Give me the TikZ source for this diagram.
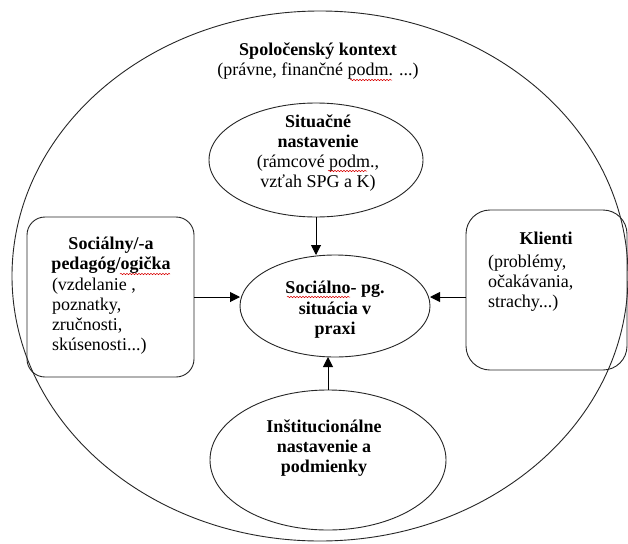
\documentclass[tikz,border=0pt]{standalone}
\usepackage{fontspec}
\setmainfont{Liberation Serif}
\usetikzlibrary{arrows.meta,shapes.geometric,decorations.pathmorphing}
\begin{document}
\begin{tikzpicture}[x=1pt,y=-1pt,
  every node/.style={inner sep=0pt, outer sep=0pt},
  txt/.style={font=\fontsize{18}{20}\selectfont, align=center},
  txtl/.style={font=\fontsize{18}{20}\selectfont, align=left, anchor=west},
  ell/.style={draw=black!85, line width=0.9pt, ellipse},
  rbox/.style={draw=black!85, line width=0.9pt, rectangle},
  arr/.style={draw=black, line width=1pt, -{Triangle[length=10pt,width=10pt]}},
  squig/.style={draw=red!85!black, line width=0.5pt, decorate, decoration={snake, amplitude=0.7pt, segment length=3pt}}
]
\useasboundingbox (0,0) rectangle (628,543);
\fill[white] (0,0) rectangle (628,543);

% outer ellipse
\node[ell, minimum width=616, minimum height=530] (outer) at (320,276) {};

% inner shapes
\node[ell, minimum width=214, minimum height=114] (top) at (316,160) {};
\node[ell, minimum width=190, minimum height=102] (cen) at (335,306) {};
\node[ell, minimum width=236, minimum height=140] (bot) at (328,460) {};
\node[rbox, rounded corners=18, minimum width=167, minimum height=160] (soc) at (110.5,297) {};
\node[rbox, rounded corners=24, minimum width=161, minimum height=160] (kli) at (546.5,290) {};

% texts
\node[txt] (ctxt) at (318,61) {\textbf{Spoločenský kontext}\\(právne, finančné podm. ...)};
\node[txt] (toptxt) at (318,153) {\textbf{Situačné}\\\textbf{nastavenie}\\(rámcové podm.,\\vzťah SPG a K)};
\node[txt, font=\fontsize{18}{20.5}\selectfont\bfseries] (centxt) at (335,310) {Sociálno- pg.\\situácia v\\praxi};
\node[txt, font=\fontsize{18}{20}\selectfont\bfseries] (bottxt) at (324,448) {Inštitucionálne\\nastavenie a\\podmienky};
\node[txt, font=\fontsize{18}{20.5}\selectfont\bfseries] (soctitle) at (111,255) {Sociálny/-a\\pedagóg/ogička};
\node[txtl] (socbody) at (52,316) {(vzdelanie ,\\poznatky,\\zručnosti,\\skúsenosti...)};
\node[txt, font=\fontsize{18}{20}\selectfont\bfseries] (klititle) at (546,238) {Klienti};
\node[txtl] (klibody) at (488,283) {(problémy,\\očakávania,\\strachy...)};

% arrows
\draw[arr] (top.south) -- (top.south |- cen.north);
\draw[arr] (bot.north) -- (bot.north |- cen.south);
\draw[arr] (soc.east) -- (soc.east -| cen.west);
\draw[arr] (kli.west |- soc.east) -- (soc.east -| cen.east);

% spell-check underlines
\draw[squig] (350,80) -- (392,80);
\draw[squig] (328,171) -- (367,171);
\draw[squig] (120,274) -- (170,274);
\draw[squig] (287,297) -- (350,297);
\end{tikzpicture}
\end{document}
